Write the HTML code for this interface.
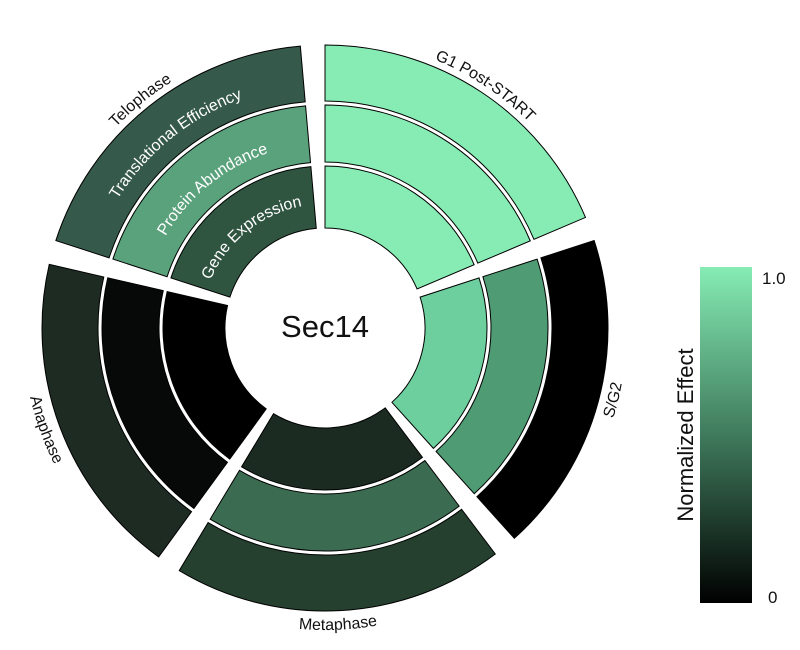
<!DOCTYPE html>
<html><head><meta charset="utf-8"><style>
html,body{margin:0;padding:0;background:#fff;}
svg{display:block;font-family:"Liberation Sans",sans-serif;}
</style></head><body>
<svg id="s" width="800" height="650" viewBox="0 0 800 650">
<defs>
<linearGradient id="cb" x1="0" y1="0" x2="0" y2="1">
<stop offset="0" stop-color="#86ecb4"/><stop offset="0.5" stop-color="#3f7a5c"/><stop offset="1" stop-color="#000"/>
</linearGradient>
<path id="tG1"/><path id="tSG"/><path id="tMe"/><path id="tAn"/><path id="tTe"/>
<path id="tGE"/><path id="tPA"/><path id="tTE"/>
</defs>
<g id="rings"></g>
<text x="325" y="337" font-size="31" text-anchor="middle" fill="#111">Sec14</text>
<g font-size="16" fill="#111">
<text><textPath href="#tG1" startOffset="50%" text-anchor="middle">G1 Post-START</textPath></text>
<text><textPath href="#tSG" startOffset="50%" text-anchor="middle">S/G2</textPath></text>
<text><textPath href="#tMe" startOffset="50%" text-anchor="middle">Metaphase</textPath></text>
<text><textPath href="#tAn" startOffset="50%" text-anchor="middle">Anaphase</textPath></text>
<text><textPath href="#tTe" startOffset="50%" text-anchor="middle">Telophase</textPath></text>
</g>
<g font-size="16" fill="#fff">
<text><textPath href="#tGE" startOffset="50%" text-anchor="middle">Gene Expression</textPath></text>
<text><textPath href="#tPA" startOffset="50%" text-anchor="middle">Protein Abundance</textPath></text>
<text><textPath href="#tTE" startOffset="50%" text-anchor="middle">Translational Efficiency</textPath></text>
</g>
<rect x="700" y="267" width="52" height="336" fill="url(#cb)"/>
<text x="762" y="284" font-size="17" fill="#111">1.0</text>
<text x="768" y="603" font-size="17" fill="#111">0</text>
<text transform="translate(693,435) rotate(-90)" font-size="22" text-anchor="middle" fill="#111">Normalized Effect</text>
</svg>
<script>
var cx=325,cy=328;
function P(r,a){a=a*Math.PI/180;return [(cx+r*Math.sin(a)).toFixed(2),(cy-r*Math.cos(a)).toFixed(2)];}
function sector(r1,r2,a1,a2){var p1=P(r2,a1),p2=P(r2,a2),p3=P(r1,a2),p4=P(r1,a1);
return "M"+p1+" A"+r2+","+r2+" 0 0 1 "+p2+" L"+p3+" A"+r1+","+r1+" 0 0 0 "+p4+"Z";}
var radii=[[100,162],[166,223],[227,283]];
var secs=[[0,67],[72,138],[143,211],[216,283],[288,355]];
var cols=[
["#86ecb4","#86ecb4","#86ecb4"],
["#6dcf9e","#4e9b74","#000000"],
["#1b2b22","#3b6b51","#25402f"],
["#000000","#060907","#1d2b23"],
["#2f5541","#5aa27c","#35594a"]];
var g=document.getElementById("rings"),h="";
for(var i=0;i<5;i++)for(var j=0;j<3;j++)
h+='<path d="'+sector(radii[j][0],radii[j][1],secs[i][0],secs[i][1])+'" fill="'+cols[i][j]+'" stroke="#000" stroke-width="1"/>';
g.innerHTML=h;
function cw(r,a1,a2){var p1=P(r,a1),p2=P(r,a2);return "M"+p1+" A"+r+","+r+" 0 0 1 "+p2;}
function ccw(r,a1,a2){var p1=P(r,a2),p2=P(r,a1);return "M"+p1+" A"+r+","+r+" 0 0 0 "+p2;}
function set(id,d){document.getElementById(id).setAttribute("d",d);}
set("tG1",cw(290,-20,87));
set("tSG",ccw(302,59,149));
set("tMe",ccw(302,130,225));
set("tAn",ccw(303,205,295));
set("tTe",cw(290,276,366));
set("tGE",cw(124,276,366));
set("tPA",cw(184,276,366));
set("tTE",cw(244,276,366));
</script>
</body></html>
